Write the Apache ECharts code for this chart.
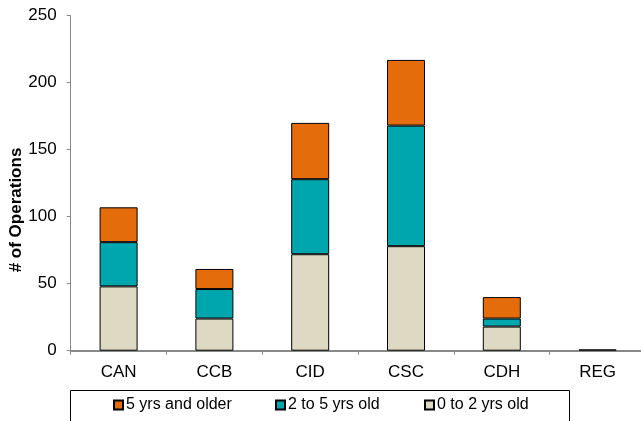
<!DOCTYPE html>
<html>
<head>
<meta charset="utf-8">
<script src="https://cdn.jsdelivr.net/npm/echarts@6/dist/echarts.min.js"></script>
<style>
  html, body { margin: 0; padding: 0; background: #fff; }
  #chart { width: 641px; height: 421px; }
</style>
</head>
<body>
<div id="chart"></div>
<script>
// Operations by region, split by age of operation
const categories = ['CAN', 'CCB', 'CID', 'CSC', 'CDH', 'REG'];
const age0to2 = [48, 24, 72, 78, 18, 1];
const age2to5 = [33, 22, 56, 90, 6, null];
const age5plus = [26, 15, 42, 49, 16, null];
const yTicks = [0, 50, 100, 150, 200, 250];
const yTitle = '# of Operations';

const FONT = '"Liberation Sans", Arial, sans-serif';
const COLORS = {
  age5plus: '#E46C0A',
  age2to5: '#00A6AE',
  age0to2: '#DDD9C3'
};

const chart = echarts.init(document.getElementById('chart'), null, { renderer: 'canvas' });

function barSeries(name, data, color) {
  return {
    name: name,
    type: 'bar',
    stack: 'ops',
    data: data,
    barWidth: 38,
    itemStyle: { color: color, borderColor: '#000', borderWidth: 1 },
    emphasis: { disabled: true }
  };
}

function legendAt(name, left) {
  return {
    data: [name],
    left: left,
    top: 397,
    icon: 'rect',
    itemWidth: 9,
    itemHeight: 9,
    itemGap: 0,
    padding: 0,
    selectedMode: false,
    textStyle: { fontFamily: FONT, fontSize: 16, color: '#000', padding: [0, 0, 0, -2] }
  };
}

chart.setOption({
  animation: false,
  backgroundColor: '#fff',
  grid: {
    left: 70.7, right: -4.5, top: 15.7, bottom: 70.3,
    containLabel: false,
    outerBoundsMode: 'none'
  },
  xAxis: {
    type: 'category',
    data: categories,
    axisLine: { lineStyle: { color: '#888', width: 2 } },
    axisTick: { show: true, length: 4, lineStyle: { color: '#888' }, alignWithLabel: false },
    axisLabel: { fontFamily: FONT, fontSize: 17, color: '#000', margin: 13 },
    splitLine: { show: false }
  },
  yAxis: {
    type: 'value',
    min: yTicks[0],
    max: yTicks[yTicks.length - 1],
    interval: 50,
    axisLine: { show: true, lineStyle: { color: '#888', width: 1 } },
    axisTick: { show: true, length: 4, lineStyle: { color: '#888' } },
    axisLabel: { fontFamily: FONT, fontSize: 17, color: '#000', margin: 14 },
    splitLine: { show: false }
  },
  legend: [
    legendAt('5 yrs and older', 113),
    legendAt('2 to 5 yrs old', 275),
    legendAt('0 to 2 yrs old', 424)
  ],
  graphic: [
    {
      type: 'rect',
      left: 68,
      top: 388,
      shape: { width: 499, height: 60 },
      style: { fill: 'none', stroke: '#000', lineWidth: 1 },
      silent: true
    },
    {
      type: 'text',
      x: 16,
      y: 210,
      rotation: Math.PI / 2,
      style: {
        text: yTitle,
        fontFamily: FONT,
        fontSize: 17,
        fontWeight: 'bold',
        fill: '#000',
        align: 'center',
        verticalAlign: 'middle'
      },
      silent: true
    }
  ],
  series: [
    barSeries('0 to 2 yrs old', age0to2, COLORS.age0to2),
    barSeries('2 to 5 yrs old', age2to5, COLORS.age2to5),
    barSeries('5 yrs and older', age5plus, COLORS.age5plus)
  ]
});
</script>
</body>
</html>
